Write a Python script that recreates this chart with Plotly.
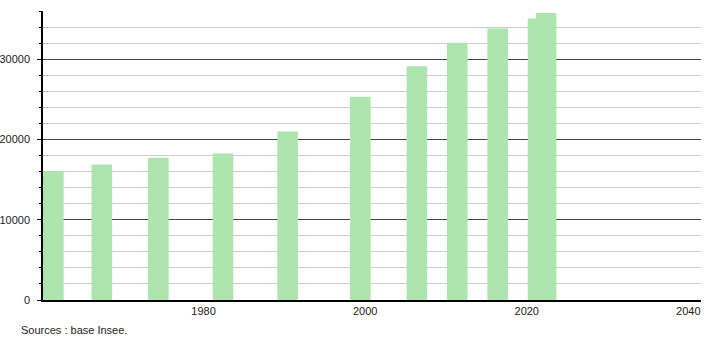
import plotly.graph_objects as go

years = [1961, 1967, 1974, 1982, 1990, 1999, 2006, 2011, 2016, 2021, 2022]
population = [16040, 16880, 17710, 18250, 21000, 25330, 29120, 32040, 33830, 35080, 35750]
x_tick_vals = [1980, 2000, 2020, 2040]
y_tick_vals = [0, 10000, 20000, 30000]
source_text = "Sources : base Insee."

bar_width = 2.55

fig = go.Figure()
fig.add_trace(go.Bar(
    x=years, y=population,
    width=bar_width, offset=-bar_width / 2 + 0.4,
    marker=dict(color="#aee4ae", line=dict(width=0)),
    hoverinfo="x+y",
))

font = dict(family="Liberation Sans, Arial, sans-serif", size=11, color="#222")

fig.update_layout(
    width=710, height=340,
    margin=dict(l=43, r=9, t=11, b=40),
    paper_bgcolor="white", plot_bgcolor="white",
    showlegend=False,
    font=font,
    xaxis=dict(
        range=[1960.12, 2041.57],
        tickvals=x_tick_vals,
        tickformat="d",
        showgrid=False, zeroline=False,
        showline=True, linecolor="black", linewidth=1.5,
        ticks="", tickfont=font,
        automargin=False,
    ),
    yaxis=dict(
        range=[0, 36000],
        tickvals=y_tick_vals,
        tickformat="d",
        showgrid=True, gridcolor="#444", gridwidth=1,
        zeroline=False,
        showline=True, linecolor="black", linewidth=1.5,
        ticks="outside", ticklen=4, tickcolor="black",
        ticklabelstandoff=5,
        tickfont=font,
        automargin=False,
        minor=dict(dtick=2000, showgrid=True, gridcolor="#cccccc", gridwidth=1,
                   ticks="outside", ticklen=2, tickcolor="black"),
    ),
    annotations=[dict(
        text=source_text, xref="paper", yref="paper",
        x=(19 - 43) / 658, y=(300 - 330) / 289,
        xanchor="left", yanchor="middle", showarrow=False,
        font=dict(family="Liberation Sans, Arial, sans-serif", size=11, color="#222"),
    )],
)

fig.write_html("out.html")
